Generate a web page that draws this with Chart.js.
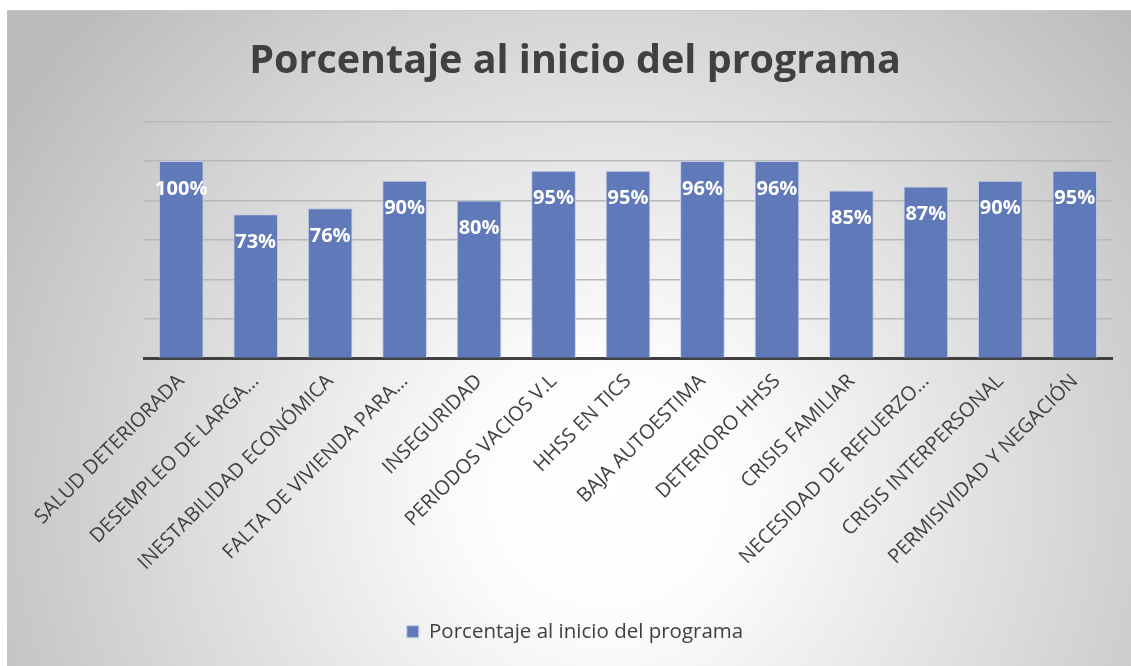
<!DOCTYPE html>
<html>
<head>
<meta charset="utf-8">
<script src="https://cdn.jsdelivr.net/npm/chart.js@4"></script>
<style>
    body { margin: 0; background: #ffffff; }
    #wrap { position: absolute; left: 7px; top: 10px; width: 1124px; height: 656px; }
</style>
</head>
<body>
<div id="wrap"><canvas id="porcentajeChart"></canvas></div>
<script>
// categorias del eje X (tal como aparecen, truncadas)
const categorias = [
    "SALUD DETERIORADA",
    "DESEMPLEO DE LARGA…",
    "INESTABILIDAD ECONÓMICA",
    "FALTA DE VIVIENDA PARA…",
    "INSEGURIDAD",
    "PERIODOS VACIOS V.L",
    "HHSS EN TICS",
    "BAJA AUTOESTIMA",
    "DETERIORO HHSS",
    "CRISIS FAMILIAR",
    "NECESIDAD DE REFUERZO…",
    "CRISIS INTERPERSONAL",
    "PERMISIVIDAD Y NEGACIÓN"
];
// altura de las barras
const valores = [100, 73, 76, 90, 80, 95, 95, 100, 100, 85, 87, 90, 95];
// etiquetas de datos mostradas sobre cada barra
const etiquetas = ["100%", "73%", "76%", "90%", "80%", "95%", "95%", "96%", "96%", "85%", "87%", "90%", "95%"];
const ticksY = [0, 20, 40, 60, 80, 100, 120];

const serie = "Porcentaje al inicio del programa";
const titulo = "Porcentaje al inicio del programa";

// fondo con degradado radial
const fondoPlugin = {
    id: "fondo",
    beforeDraw(chart) {
        const { ctx, width, height } = chart;
        const g = ctx.createRadialGradient(600, 480, 0, 600, 480, 700);
        g.addColorStop(0, "#ffffff");
        g.addColorStop(0.2, "#fcfcfc");
        g.addColorStop(1, "#bcbcbc");
        ctx.save();
        ctx.fillStyle = g;
        ctx.fillRect(0, 0, width, height);
        ctx.strokeStyle = "#c8c8c8";
        ctx.lineWidth = 1;
        ctx.beginPath();
        ctx.moveTo(0, 0.5);
        ctx.lineTo(width, 0.5);
        ctx.stroke();
        ctx.restore();
    }
};

// etiquetas de datos dentro de la barra
const etiquetasPlugin = {
    id: "etiquetas",
    afterDatasetsDraw(chart) {
        const { ctx } = chart;
        const meta = chart.getDatasetMeta(0);
        ctx.save();
        ctx.fillStyle = "#ffffff";
        ctx.font = "bold 20px 'Open Sans'";
        ctx.textAlign = "center";
        ctx.textBaseline = "middle";
        meta.data.forEach((bar, i) => {
            ctx.fillText(etiquetas[i], bar.x, bar.y + 28);
        });
        ctx.restore();
    }
};

const ctx = document.getElementById("porcentajeChart").getContext("2d");

new Chart(ctx, {
    type: "bar",
    data: {
        labels: categorias,
        datasets: [{
            label: serie,
            data: valores,
            backgroundColor: "#6079b8",
            borderColor: "#c3cde6",
            borderWidth: 1,
            categoryPercentage: 0.6,
            barPercentage: 1
        }]
    },
    options: {
        responsive: true,
        maintainAspectRatio: false,
        animation: false,
        layout: {
            padding: { left: 12, right: 0, top: 0, bottom: 14 }
        },
        scales: {
            x: {
                grid: { display: false },
                border: { display: true, color: "#404040", width: 3 },
                ticks: {
                    color: "#404040",
                    font: { family: "'Open Sans'", size: 20 },
                    minRotation: 45,
                    maxRotation: 45,
                    autoSkip: false,
                    padding: 3
                },
                afterFit: axis => { axis.height = 253; }
            },
            y: {
                min: ticksY[0],
                max: ticksY[ticksY.length - 1],
                afterBuildTicks: axis => {
                    axis.ticks = ticksY.map(v => ({ value: v }));
                },
                ticks: { display: false },
                grid: { color: "#b8b8b8", lineWidth: 1.5, drawTicks: false },
                border: { display: false },
                afterFit: axis => { axis.width = 125; }
            },
            derecha: {
                type: "linear",
                position: "right",
                ticks: { display: false },
                grid: { display: false, drawTicks: false },
                border: { display: false },
                afterFit: axis => { axis.width = 19; }
            }
        },
        plugins: {
            title: {
                display: true,
                text: titulo,
                color: "#404040",
                font: { family: "'Open Sans'", size: 39.5, weight: "bold" },
                padding: { top: 28, bottom: 36 }
            },
            legend: {
                display: true,
                position: "bottom",
                labels: {
                    color: "#404040",
                    font: { family: "'Open Sans'", size: 20.5 },
                    boxWidth: 12,
                    boxHeight: 12,
                    padding: 10
                }
            },
            tooltip: { enabled: false }
        }
    },
    plugins: [fondoPlugin, etiquetasPlugin]
});
</script>
</body>
</html>
